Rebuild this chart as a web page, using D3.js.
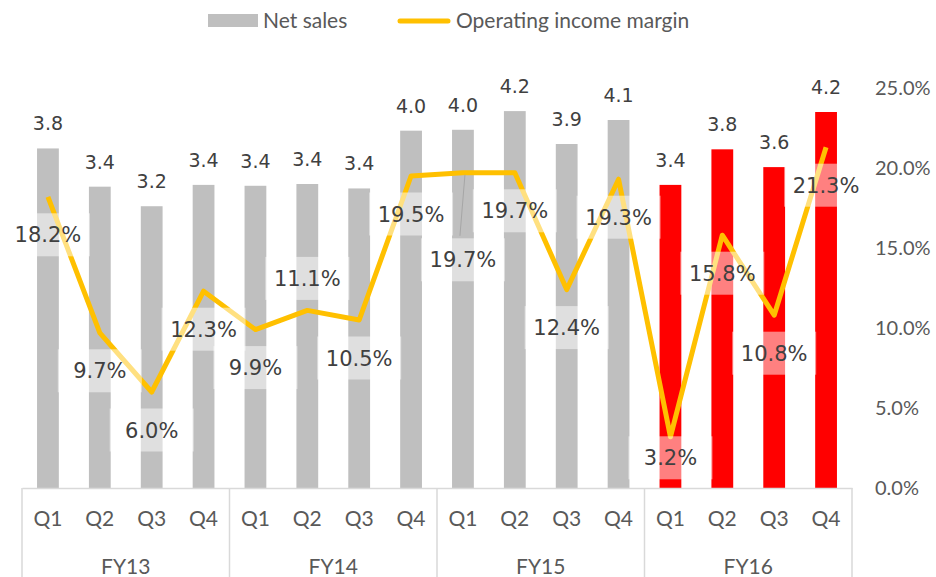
<!DOCTYPE html>
<html>
<head>
<meta charset="utf-8">
<script src="https://cdn.jsdelivr.net/npm/d3@7"></script>
<style>
  body { margin: 0; background: #fff; }
  svg { display: block; }
</style>
</head>
<body>
<svg id="chart" width="936" height="577"></svg>
<script>
var years = ["FY13", "FY14", "FY15", "FY16"];
var quarters = ["Q1", "Q2", "Q3", "Q4"];
var netSales = [3.82, 3.39, 3.17, 3.41, 3.40, 3.42, 3.37, 4.02,
                4.03, 4.24, 3.87, 4.14, 3.41, 3.81, 3.61, 4.23];
var margin = [18.2, 9.7, 6.0, 12.3, 9.9, 11.1, 10.5, 19.5,
              19.7, 19.7, 12.4, 19.3, 3.2, 15.8, 10.8, 21.3];
var pctTicks = [0, 5, 10, 15, 20, 25];
var highlightYear = "FY16";

var cats = [];
years.forEach(function (y) {
  quarters.forEach(function (q) { cats.push({ year: y, q: q, key: y + q }); });
});
var data = cats.map(function (c, i) {
  return { key: c.key, year: c.year, q: c.q, sales: netSales[i], pct: margin[i] };
});

var svg = d3.select("#chart"),
  plot = { left: 22, right: 852, top: 88, bottom: 488 };

var x = d3.scaleBand()
  .domain(data.map(function (d) { return d.key; }))
  .range([plot.left, plot.right])
  .paddingInner(0.58)
  .paddingOuter(0.29);

var xc = function (d) { return x(d.key) + x.bandwidth() / 2; };

var ySales = d3.scaleLinear().domain([0, 4.5]).range([plot.bottom, plot.top]);
var yPct = d3.scaleLinear().domain([0, 25]).range([plot.bottom, plot.top]);

// bars
svg.append("g").selectAll("rect")
  .data(data)
  .enter().append("rect")
  .attr("x", function (d) { return x(d.key); })
  .attr("y", function (d) { return ySales(d.sales); })
  .attr("width", x.bandwidth())
  .attr("height", function (d) { return plot.bottom - ySales(d.sales); })
  .attr("fill", function (d) { return d.year === highlightYear ? "#ff0000" : "#bfbfbf"; });

// bar value labels
svg.append("g").selectAll("text")
  .data(data)
  .enter().append("text")
  .attr("x", xc)
  .attr("y", function (d) { return ySales(d.sales) - 18; })
  .attr("text-anchor", "middle")
  .attr("font-family", "DejaVu Sans, Verdana, sans-serif")
  .attr("font-size", 19)
  .attr("fill", "#404040")
  .text(function (d) { return d.sales.toFixed(1); });

// right axis
var yAxis = svg.append("g")
  .attr("transform", "translate(875,0)")
  .call(d3.axisRight(yPct).tickValues(pctTicks).tickSize(0).tickPadding(0)
    .tickFormat(function (d) { return d.toFixed(1) + "%"; }));
yAxis.select(".domain").remove();
yAxis.selectAll("text")
  .attr("font-family", "Lato, sans-serif")
  .attr("font-size", 20)
  .attr("fill", "#595959");

// category axis
var axisCol = "#d9d9d9";
var xAxis = svg.append("g")
  .attr("transform", "translate(0," + plot.bottom + ")")
  .call(d3.axisBottom(x).tickSize(0).tickPadding(23)
    .tickFormat(function (k) { return k.slice(-2); }));
xAxis.select(".domain").attr("stroke", axisCol).attr("stroke-width", 1.5);
xAxis.selectAll("text")
  .attr("font-family", "Lato, sans-serif")
  .attr("font-size", 21)
  .attr("fill", "#595959");

var step = x.step();
var groupEdges = d3.range(years.length + 1).map(function (i) { return plot.left + i * step * 4; });
svg.append("g").selectAll("line")
  .data(groupEdges)
  .enter().append("line")
  .attr("x1", function (d) { return d; })
  .attr("x2", function (d) { return d; })
  .attr("y1", plot.bottom)
  .attr("y2", 577)
  .attr("stroke", axisCol)
  .attr("stroke-width", 1.5);

svg.append("g").selectAll("text")
  .data(years)
  .enter().append("text")
  .attr("x", function (d, i) { return (groupEdges[i] + groupEdges[i + 1]) / 2; })
  .attr("y", 574)
  .attr("text-anchor", "middle")
  .attr("font-family", "Lato, sans-serif")
  .attr("font-size", 21)
  .attr("fill", "#595959")
  .text(function (d) { return d; });

// margin line
var line = d3.line()
  .x(xc)
  .y(function (d) { return yPct(d.pct); });

svg.append("path")
  .datum(data)
  .attr("d", line)
  .attr("fill", "none")
  .attr("stroke", "#ffc000")
  .attr("stroke-width", 5)
  .attr("stroke-linejoin", "round");

// margin labels: default below the point, a few moved like in the original
var labelDy = { 5: -32, 8: 87, 12: 21 };
var dyOf = function (i) { return labelDy[i] !== undefined ? labelDy[i] : 38; };

// leader line for the moved label
svg.append("line")
  .attr("x1", xc(data[8]) + 2)
  .attr("y1", yPct(data[8].pct) + 2)
  .attr("x2", xc(data[8]) - 3)
  .attr("y2", yPct(data[8].pct) + dyOf(8) - 24)
  .attr("stroke", "#a6a6a6")
  .attr("stroke-width", 1);

var pl = svg.append("g").selectAll("g")
  .data(data)
  .enter().append("g")
  .attr("transform", function (d, i) {
    return "translate(" + xc(d) + "," + (yPct(d.pct) + dyOf(i)) + ")";
  });

pl.append("rect")
  .attr("x", -42)
  .attr("y", -21.5)
  .attr("width", 84)
  .attr("height", 43)
  .attr("fill", "rgba(255,255,255,0.5)");

pl.append("text")
  .attr("text-anchor", "middle")
  .attr("dy", "0.36em")
  .attr("font-family", "DejaVu Sans, Verdana, sans-serif")
  .attr("font-size", 21)
  .attr("fill", "#404040")
  .text(function (d) { return d.pct.toFixed(1) + "%"; });

// legend
var lg = svg.append("g");
lg.append("rect").attr("x", 208).attr("y", 14).attr("width", 50).attr("height", 13).attr("fill", "#bfbfbf");
lg.append("text").attr("x", 263).attr("y", 28)
  .attr("font-family", "Lato, sans-serif").attr("font-size", 21).attr("fill", "#595959")
  .text("Net sales");
lg.append("line").attr("x1", 400).attr("x2", 448).attr("y1", 21).attr("y2", 21)
  .attr("stroke", "#ffc000").attr("stroke-width", 5).attr("stroke-linecap", "round");
lg.append("text").attr("x", 456).attr("y", 28)
  .attr("font-family", "Lato, sans-serif").attr("font-size", 21).attr("fill", "#595959")
  .text("Operating income margin");
</script>
</body>
</html>
